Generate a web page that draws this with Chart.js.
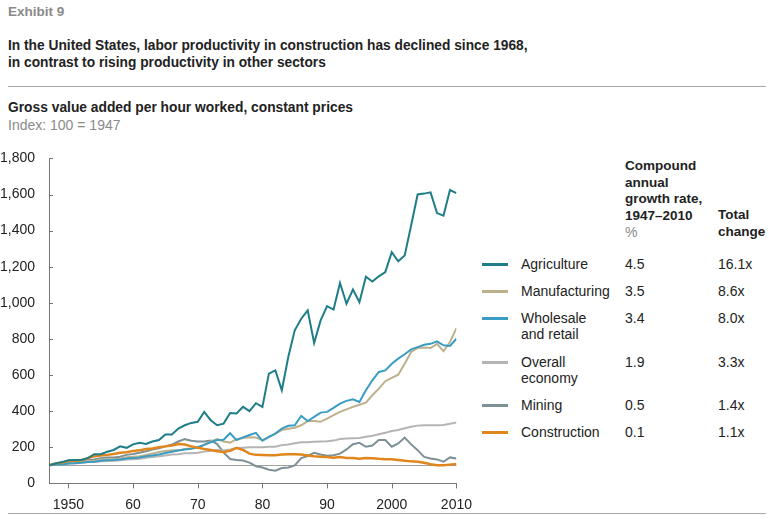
<!DOCTYPE html>
<html>
<head>
<meta charset="utf-8">
<script src="https://cdn.jsdelivr.net/npm/chart.js@4"></script>
<style>
  html, body { margin:0; padding:0; background:#fff; }
  body { width:769px; height:519px; position:relative; overflow:hidden; font-family:"Liberation Sans", Arial, sans-serif; color:#222; }
  .t { position:absolute; white-space:nowrap; line-height:16.5px; }
  .b { font-weight:bold; }
  .rule { position:absolute; left:8px; width:758px; height:1px; background:#a8a8a8; }
  #wrap { position:absolute; left:0; top:143.5px; width:477px; height:374.2px; }
  .sw { position:absolute; width:26px; height:3px; }
</style>
</head>
<body>
<div class="t b" style="left:8px;top:4px;font-size:13.5px;color:#8a8a8a;">Exhibit 9</div>
<div class="t b" style="left:8px;top:38px;font-size:13.75px;">In the United States, labor productivity in construction has declined since 1968,<br>in contrast to rising productivity in other sectors</div>
<div class="rule" style="top:86px;"></div>
<div class="t b" style="left:8px;top:100px;font-size:13.8px;">Gross value added per hour worked, constant prices</div>
<div class="t" style="left:8px;top:117px;font-size:14px;color:#8a8a8a;">Index: 100 = 1947</div>
<div id="wrap"><canvas id="c"></canvas></div>
<div id="legend"></div>
<div class="rule" style="top:513px;"></div>
<script>
const YEARS = [];
for (let y = 1947; y <= 2010; y++) YEARS.push(y);

const SERIES_NAMES = ["Agriculture", "Manufacturing", "Wholesale<br>and retail", "Overall<br>economy", "Mining", "Construction"];
const CAGR = ["4.5", "3.5", "3.4", "1.9", "0.5", "0.1"];
const TOTAL_CHANGE = ["16.1x", "8.6x", "8.0x", "3.3x", "1.4x", "1.1x"];
const COLORS = ["#1f7d88", "#bdb18c", "#3a9cc2", "#b4b4b4", "#7d9096", "#e0861c"];

const agriculture = [100,110,118,128,129,130,140,162,162,175,185,205,197,216,225,218,232,240,271,271,304,322,335,341,396,350,322,331,390,387,424,400,444,424,608,626,516,700,848,912,958,778,903,982,963,1110,995,1074,1004,1145,1118,1147,1170,1280,1230,1262,1430,1600,1605,1612,1497,1483,1625,1608];
const manufacturing = [100,104,106,115,118,120,124,124,132,132,135,136,145,147,150,158,166,174,180,183,183,190,194,198,215,232,245,232,226,245,252,256,254,240,256,276,295,303,308,322,345,346,341,359,378,396,410,424,436,447,488,525,566,585,602,663,728,750,752,750,773,732,783,860];
const wholesale = [100,103,105,110,112,115,118,120,125,128,130,133,138,140,143,150,155,160,168,175,182,188,192,200,213,228,240,242,278,240,255,268,280,236,258,276,304,319,322,374,345,368,392,396,418,442,457,466,451,516,571,617,626,663,691,715,742,755,768,773,787,765,761,801];
const overall = [100,103,105,110,112,115,118,119,123,124,126,128,133,134,137,142,146,150,155,160,162,167,167,170,176,181,185,182,188,195,198,200,200,200,203,203,212,216,222,228,228,230,232,234,237,246,248,250,252,258,264,272,280,290,296,305,314,320,322,322,322,324,330,337];
const mining = [100,105,108,118,122,122,128,133,140,143,143,148,158,163,170,178,187,195,205,215,232,245,236,232,232,238,218,172,135,130,127,115,95,88,76,70,85,88,100,140,152,170,160,153,156,165,188,217,225,203,210,240,240,203,221,254,216,184,147,138,133,120,144,138];
const construction = [100,110,115,125,125,128,140,150,155,158,163,170,172,180,183,190,193,200,205,210,218,215,205,198,190,185,178,174,180,197,185,165,158,157,156,156,160,162,162,160,155,150,148,146,142,146,141,141,137,141,139,136,134,134,130,125,122,120,114,106,101,101,104,107];

const SERIES_DATA = [agriculture, manufacturing, wholesale, overall, mining, construction];
const DRAW_ORDER = [0, 3, 2, 4, 5, 1]; // lower = drawn on top
const LINE_WIDTHS = [2, 2, 2, 2, 2, 2.5];

const X_TICKS = [1950, 1960, 1970, 1980, 1990, 2000, 2010];
const X_TICK_LABELS = ["1950", "60", "70", "80", "90", "2000", "2010"];
const Y_MAX = 1800, Y_STEP = 200;
const BASELINE = 100;

// legend table
const legend = document.getElementById('legend');
let html = '';
html += '<div class="t b" style="left:625px;top:158px;font-size:13.5px;">Compound<br>annual<br>growth rate,<br>1947–2010</div>';
html += '<div class="t" style="left:625px;top:224px;font-size:14px;color:#8a8a8a;">%</div>';
html += '<div class="t b" style="left:718px;top:207px;font-size:13.5px;">Total<br>change</div>';
const ROW_Y = [264, 291, 318, 362, 405, 432];
SERIES_NAMES.forEach((n, i) => {
  const cy = ROW_Y[i];
  html += `<div class="sw" style="left:482px;top:${cy - 1.5}px;background:${COLORS[i]};"></div>`;
  html += `<div class="t" style="left:521px;top:${cy - 8.5}px;font-size:14px;">${n}</div>`;
  html += `<div class="t" style="left:625px;top:${cy - 8.5}px;font-size:14px;">${CAGR[i]}</div>`;
  html += `<div class="t" style="left:718px;top:${cy - 8.5}px;font-size:14px;">${TOTAL_CHANGE[i]}</div>`;
});
legend.innerHTML = html;

const tickPlugin = {
  id: 'tickPlugin',
  beforeDatasetsDraw(chart) {
    const ctx = chart.ctx, y = chart.scales.y, x = chart.scales.x;
    const py = y.getPixelForValue(BASELINE);
    ctx.save();
    ctx.strokeStyle = '#a0a0a0';
    ctx.lineWidth = 1;
    ctx.beginPath();
    ctx.moveTo(x.left, Math.round(py) + 0.5);
    ctx.lineTo(x.right, Math.round(py) + 0.5);
    ctx.stroke();
    ctx.restore();
  },
  afterDraw(chart) {
    const ctx = chart.ctx, y = chart.scales.y, x = chart.scales.x;
    ctx.save();
    ctx.strokeStyle = '#777';
    ctx.lineWidth = 1;
    ctx.beginPath();
    y.ticks.forEach(t => {
      const p = Math.round(y.getPixelForValue(t.value)) + 0.5;
      ctx.moveTo(x.left, p); ctx.lineTo(x.left + 4, p);
    });
    x.ticks.forEach(t => {
      const p = Math.round(x.getPixelForValue(t.value)) + 0.5;
      ctx.moveTo(p, y.bottom); ctx.lineTo(p, y.bottom + 5);
    });
    ctx.stroke();
    ctx.restore();
  }
};

new Chart(document.getElementById('c'), {
  type: 'line',
  data: {
    labels: YEARS,
    datasets: SERIES_DATA.map((d, i) => ({
      label: SERIES_NAMES[i].replace('<br>', ' '),
      data: d.map((v, k) => ({ x: YEARS[k], y: v })),
      borderColor: COLORS[i],
      borderWidth: LINE_WIDTHS[i],
      pointRadius: 0,
      tension: 0,
      fill: false,
      order: DRAW_ORDER[i]
    }))
  },
  options: {
    responsive: true,
    maintainAspectRatio: false,
    animation: false,
    layout: { padding: { top: 9, right: 12, left: 0, bottom: 0 } },
    plugins: { legend: { display: false }, tooltip: { enabled: false } },
    scales: {
      x: {
        type: 'linear',
        min: 1947, max: 2010,
        afterBuildTicks: s => { s.ticks = X_TICKS.map(v => ({ value: v })); },
        ticks: {
          autoSkip: false, maxRotation: 0, padding: 5,
          color: '#222', font: { family: 'Liberation Sans', size: 14 },
          callback: v => X_TICK_LABELS[X_TICKS.indexOf(v)]
        },
        grid: { display: false },
        border: { display: true, color: '#777', width: 1 }
      },
      y: {
        min: 0, max: Y_MAX,
        afterFit: s => { s.width = 49; },
        ticks: {
          stepSize: Y_STEP, padding: 6,
          color: '#222', font: { family: 'Liberation Sans', size: 14 },
          callback: v => v.toLocaleString('en-US')
        },
        grid: { display: false },
        border: { display: true, color: '#777', width: 1 }
      }
    }
  },
  plugins: [tickPlugin]
});
</script>
</body>
</html>
